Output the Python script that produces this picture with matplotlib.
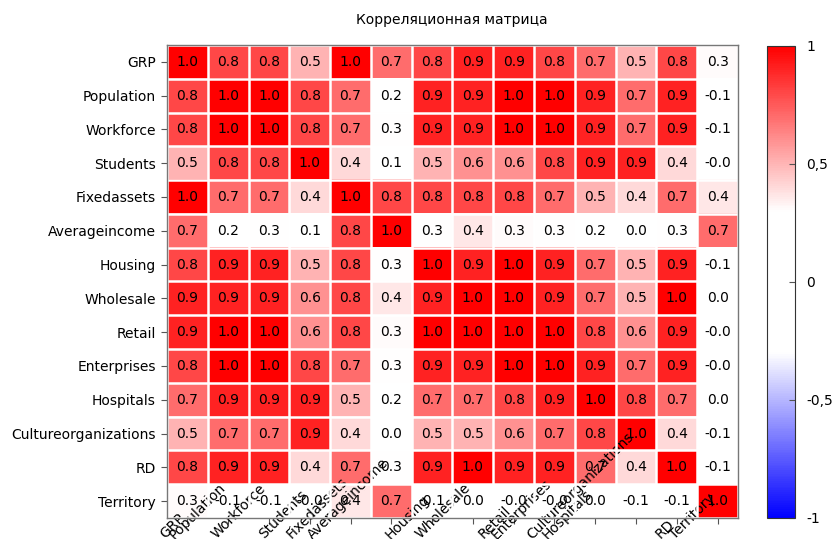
import numpy as np
import matplotlib
matplotlib.use("Agg")
import matplotlib.pyplot as plt
from matplotlib.colors import LinearSegmentedColormap

# 1. データ
labels = ["GRP", "Population", "Workforce", "Students", "Fixedassets",
          "Averageincome", "Housing", "Wholesale", "Retail", "Enterprises",
          "Hospitals", "Cultureorganizations", "RD", "Territory"]

row_grp = [1.0, 0.8, 0.8, 0.5, 1.0, 0.7, 0.8, 0.9, 0.9, 0.8, 0.7, 0.5, 0.8, 0.31]
row_population = [0.8, 1.0, 1.0, 0.8, 0.7, 0.2, 0.9, 0.9, 1.0, 1.0, 0.9, 0.7, 0.9, -0.1]
row_workforce = [0.8, 1.0, 1.0, 0.8, 0.7, 0.3, 0.9, 0.9, 1.0, 1.0, 0.9, 0.7, 0.9, -0.1]
row_students = [0.5, 0.8, 0.8, 1.0, 0.4, 0.1, 0.5, 0.6, 0.6, 0.8, 0.9, 0.9, 0.4, -0.02]
row_fixedassets = [1.0, 0.7, 0.7, 0.4, 1.0, 0.8, 0.8, 0.8, 0.8, 0.7, 0.5, 0.4, 0.7, 0.36]
row_averageincome = [0.7, 0.2, 0.3, 0.1, 0.8, 1.0, 0.3, 0.36, 0.31, 0.3, 0.2, 0.0, 0.3, 0.7]
row_housing = [0.8, 0.9, 0.9, 0.5, 0.8, 0.3, 1.0, 0.9, 1.0, 0.9, 0.7, 0.5, 0.9, -0.1]
row_wholesale = [0.9, 0.9, 0.9, 0.6, 0.8, 0.36, 0.9, 1.0, 1.0, 0.9, 0.7, 0.5, 1.0, 0.0]
row_retail = [0.9, 1.0, 1.0, 0.6, 0.8, 0.31, 1.0, 1.0, 1.0, 1.0, 0.8, 0.6, 0.9, -0.02]
row_enterprises = [0.8, 1.0, 1.0, 0.8, 0.7, 0.3, 0.9, 0.9, 1.0, 1.0, 0.9, 0.7, 0.9, -0.02]
row_hospitals = [0.7, 0.9, 0.9, 0.9, 0.5, 0.2, 0.7, 0.7, 0.8, 0.9, 1.0, 0.8, 0.7, 0.0]
row_culture = [0.5, 0.7, 0.7, 0.9, 0.4, 0.0, 0.5, 0.5, 0.6, 0.7, 0.8, 1.0, 0.4, -0.1]
row_rd = [0.8, 0.9, 0.9, 0.4, 0.7, 0.3, 0.9, 1.0, 0.9, 0.9, 0.7, 0.4, 1.0, -0.1]
row_territory = [0.31, -0.1, -0.1, -0.02, 0.36, 0.7, -0.1, 0.0, -0.02, -0.02, 0.0, -0.1, -0.1, 1.0]

corr = np.array([row_grp, row_population, row_workforce, row_students,
                 row_fixedassets, row_averageincome, row_housing, row_wholesale,
                 row_retail, row_enterprises, row_hospitals, row_culture,
                 row_rd, row_territory])

cbar_ticks = [-1, -0.5, 0, 0.5, 1]
cbar_labels = ["-1", "-0,5", "0", "0,5", "1"]

# 2. 描画
plt.rcParams["font.family"] = ["DejaVu Sans"]
fig = plt.figure(figsize=(8.34, 5.39), dpi=100)
ax = fig.add_axes([0.2002, 0.039, 0.6847, 0.8776])
cax = fig.add_axes([0.9197, 0.039, 0.0336, 0.8757])

cmap = LinearSegmentedColormap.from_list(
    "bwr_flat", [(0.0, "#0000ff"), (0.35, "#ffffff"), (0.65, "#ffffff"), (1.0, "#ff0000")])
im = ax.imshow(corr, cmap=cmap, vmin=-1, vmax=1, aspect="auto")

n = len(labels)
for i in range(n):
    for j in range(n):
        ax.text(j, i, f"{corr[i, j]:.1f}", ha="center", va="center",
                fontsize=10, color="black")

# 白いグリッド
ax.set_xticks(np.arange(-0.5, n, 1), minor=True)
ax.set_yticks(np.arange(-0.5, n, 1), minor=True)
ax.grid(which="minor", color="white", linestyle="-", linewidth=1.8)
ax.tick_params(which="minor", bottom=False, left=False)

ax.set_xticks(np.arange(n))
ax.set_xticklabels(labels, rotation=45, ha="right", va="bottom", fontsize=10)
ax.set_yticks(np.arange(n))
ax.set_yticklabels(labels, fontsize=10)
ax.tick_params(axis="x", which="major", length=4, color="#555555", pad=13)
ax.tick_params(axis="y", which="major", length=4, color="#555555", pad=4)
for spine in ax.spines.values():
    spine.set_color("#777777")
    spine.set_linewidth(1.0)

cb = fig.colorbar(im, cax=cax, ticks=cbar_ticks)
cb.ax.set_yticklabels(cbar_labels, fontsize=10)
cb.ax.tick_params(direction="in", length=4, color="#555555", pad=8)
cb.outline.set_edgecolor("#333333")
cb.outline.set_linewidth(0.8)

fig.text(0.542, 0.963, "Корреляционная матрица", ha="center", va="center", fontsize=10)

fig.savefig("out.png", dpi=100)
plt.close(fig)
